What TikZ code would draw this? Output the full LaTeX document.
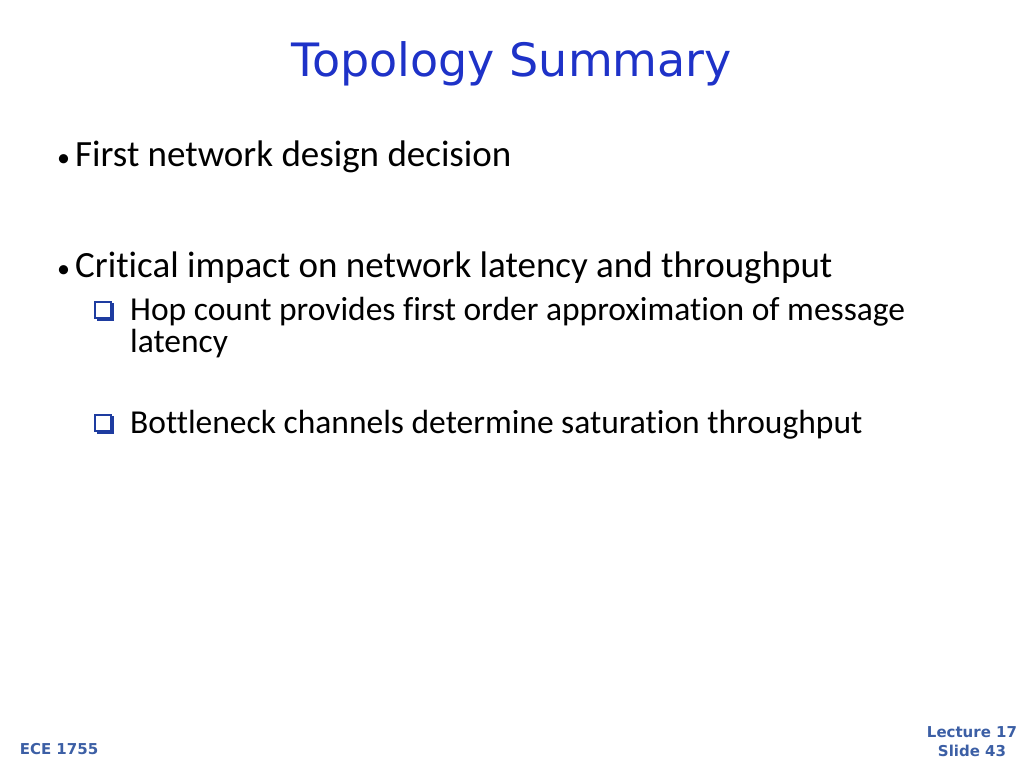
\documentclass[tikz,border=0pt]{standalone}
\usepackage{fontspec}
\setmainfont{Carlito}[Ligatures=NoCommon]
\newfontfamily\titlefont{DejaVu Sans}
\definecolor{ttl}{RGB}{30,50,200}
\definecolor{foot}{RGB}{60,95,165}
\definecolor{boxc}{RGB}{30,60,160}
\begin{document}
\begin{tikzpicture}[x=1pt,y=-1pt,
  body/.style={anchor=base west,inner sep=0pt,font=\fontsize{37}{40}\selectfont},
  sub/.style={anchor=base west,inner sep=0pt,font=\fontsize{33.5}{36}\selectfont},
  dot/.style={anchor=base west,inner sep=0pt,font=\fontsize{26}{28}\selectfont},
  ft/.style={inner sep=0pt,text=foot,font=\titlefont\bfseries\fontsize{15}{19}\selectfont}]
\useasboundingbox (0,0) rectangle (1024,768);
\node[inner sep=0pt,text=ttl,font=\titlefont\fontsize{46}{50}\selectfont] (title) at (512,64) {Topology Summary};
\node[dot] (d1) at (57,166) {•};
\node[body] (b1) at (75,166) {First network design decision};
\node[dot] (d2) at (57,277) {•};
\node[body] (b2) at (75,277) {Critical impact on network latency and throughput};
\node[sub] (s1) at (130,320) {Hop count provides first order approximation of message};
\node[sub] (s1b) at (130,352) {latency};
\node[sub] (s2) at (130,433) {Bottleneck channels determine saturation throughput};
\foreach \yy/\n in {302/q1,415/q2}{
  \draw[boxc,line width=1.5pt] (95,\yy) rectangle (111,\yy+16);
  \draw[boxc,line width=2.8pt] (113,\yy+1) -- (113,\yy+18) -- (97,\yy+18);
}
\node[ft] (f1) at (59,749) {ECE 1755};
\node[ft,align=center] (f2) at (972,742) {Lecture 17\\Slide 43};
\end{tikzpicture}
\end{document}
